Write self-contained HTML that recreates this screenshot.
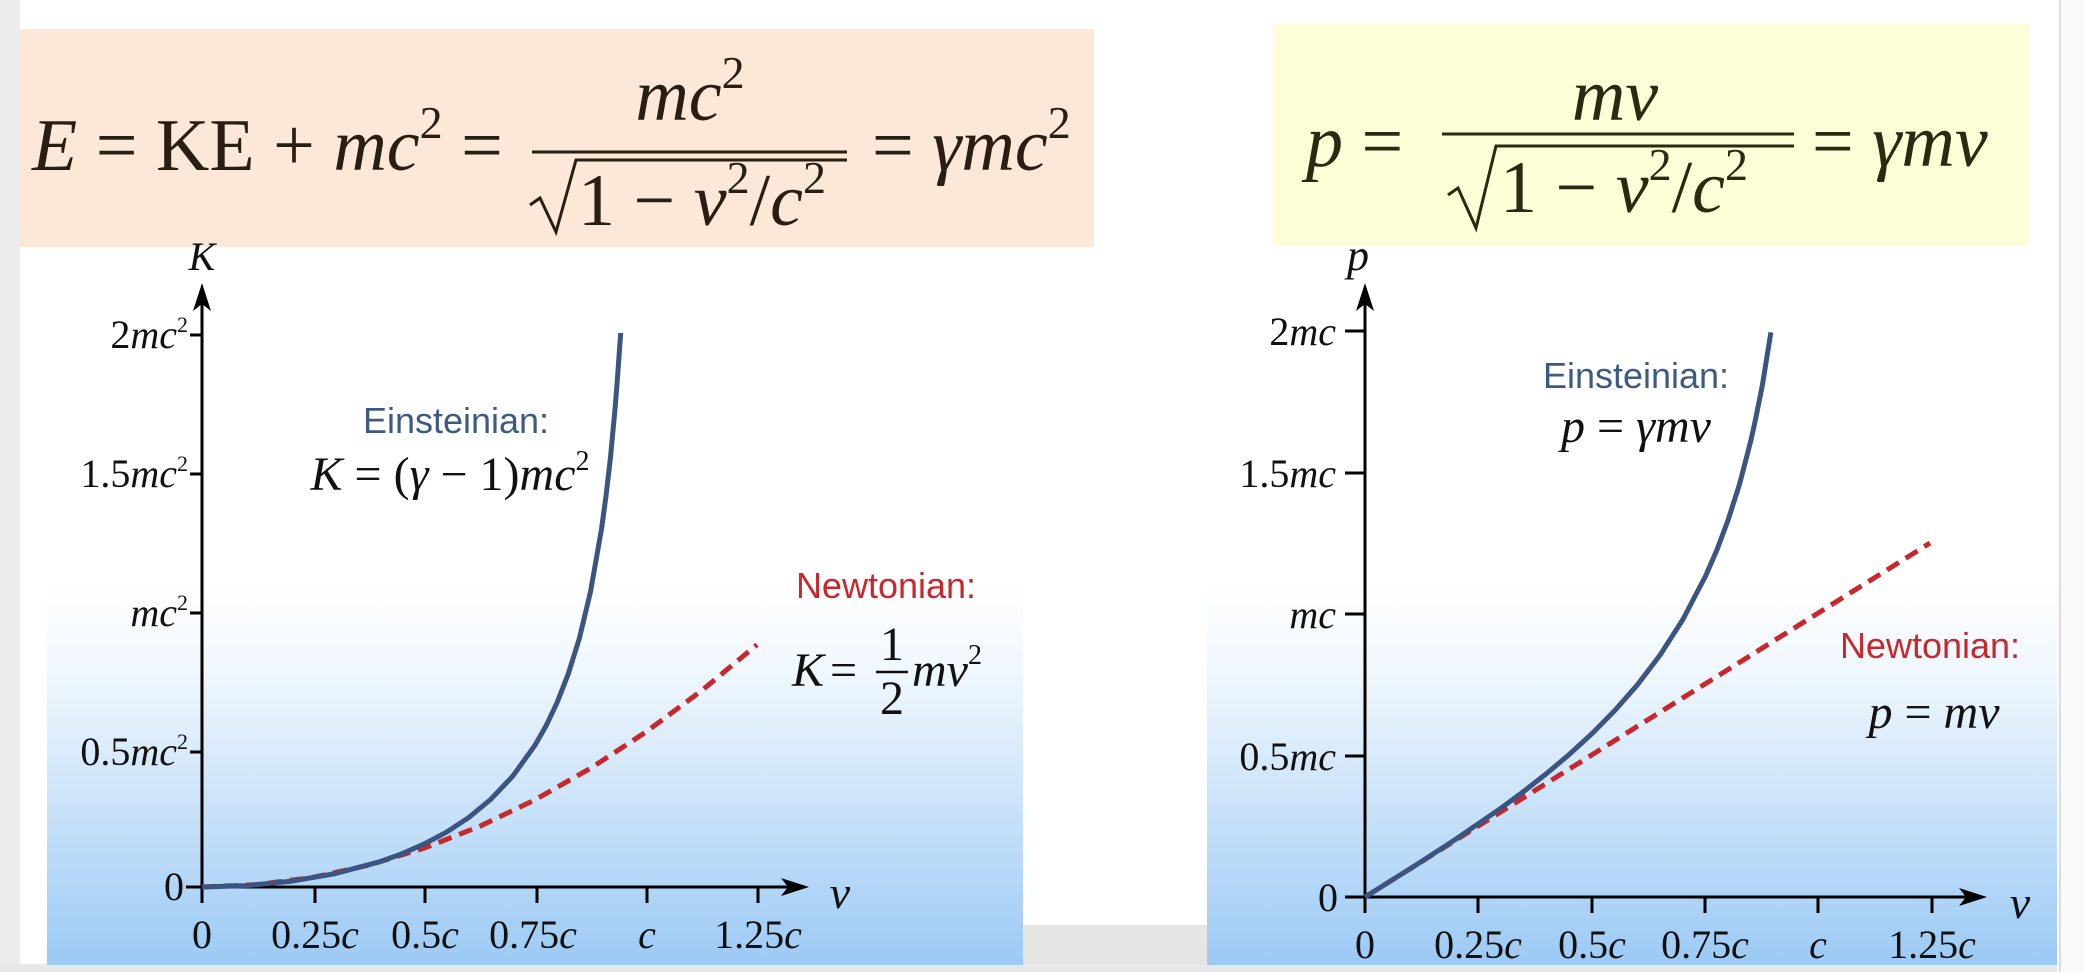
<!DOCTYPE html>
<html><head><meta charset="utf-8"><style>
html,body{margin:0;padding:0;background:#fff;width:2084px;height:972px;overflow:hidden}
svg{display:block}
.s{font-family:"Liberation Serif",serif}
.i{font-style:italic}
.a{font-family:"Liberation Sans",sans-serif}
</style></head><body>
<svg width="2084" height="972" viewBox="0 0 2084 972">
<defs>
<linearGradient id="g" x1="0" y1="0" x2="0" y2="1">
<stop offset="0" stop-color="#ffffff"/>
<stop offset="0.25" stop-color="#eef6fd"/>
<stop offset="1" stop-color="#9ccaf5"/>
</linearGradient>
</defs>
<rect x="0" y="0" width="20" height="972" fill="#ececef"/>
<rect x="1023" y="925" width="190" height="41" fill="#e6e6e4"/>
<rect x="0" y="964" width="2084" height="8" fill="#e8e8ea"/>
<rect x="2057" y="0" width="27" height="972" fill="#fafafa"/>
<line x1="2060" y1="0" x2="2060" y2="972" stroke="#ddd" stroke-width="2"/>

<rect x="20" y="29" width="1074" height="218" fill="#fbe8d8"/>
<rect x="1273" y="24" width="756" height="222" fill="#fdfdd8"/>

<rect x="47" y="585" width="976" height="380" fill="url(#g)"/>
<rect x="1207" y="585" width="850" height="380" fill="url(#g)"/>

<!-- left formula -->
<g class="s" fill="#2a1e12" font-size="74">
<text x="32" y="170"><tspan class="i">E</tspan> = KE + <tspan class="i">mc</tspan><tspan font-size="46" dy="-32">2</tspan><tspan dy="32"> =</tspan></text>
<text x="690" y="120" text-anchor="middle"><tspan class="i">mc</tspan><tspan font-size="46" dy="-32">2</tspan></text>
<line x1="532" y1="152" x2="847" y2="152" stroke="#2a1e12" stroke-width="3"/>
<path d="M530 205 L540 198 L556 232 L576 160 L847 160" fill="none" stroke="#2a1e12" stroke-width="3"/>
<text x="578" y="225">1 − <tspan class="i">v</tspan><tspan font-size="46" dy="-32">2</tspan><tspan dy="32">/</tspan><tspan class="i">c</tspan><tspan font-size="46" dy="-32">2</tspan></text>
<text x="872" y="170">= <tspan class="i">γmc</tspan><tspan font-size="46" dy="-32">2</tspan></text>
</g>

<!-- right formula -->
<g class="s" fill="#2a2a10" font-size="74">
<text x="1306" y="166"><tspan class="i">p</tspan> =</text>
<text x="1615" y="120" text-anchor="middle" class="i">mv</text>
<line x1="1442" y1="134" x2="1794" y2="134" stroke="#2a2a10" stroke-width="3"/>
<path d="M1448 195 L1458 188 L1476 228 L1496 146 L1794 146" fill="none" stroke="#2a2a10" stroke-width="3"/>
<text x="1500" y="212">1 − <tspan class="i">v</tspan><tspan font-size="46" dy="-32">2</tspan><tspan dy="32">/</tspan><tspan class="i">c</tspan><tspan font-size="46" dy="-32">2</tspan></text>
<text x="1812" y="166">= <tspan class="i">γmv</tspan></text>
</g>

<!-- left chart axes -->
<g stroke="#000" stroke-width="3" fill="none">
<line x1="202" y1="887" x2="202" y2="300"/>
<line x1="186" y1="887" x2="790" y2="887"/>
<line x1="190" y1="335" x2="202" y2="335"/>
<line x1="190" y1="474" x2="202" y2="474"/>
<line x1="190" y1="613" x2="202" y2="613"/>
<line x1="190" y1="752" x2="202" y2="752"/>
<line x1="315" y1="887" x2="315" y2="903"/>
<line x1="425" y1="887" x2="425" y2="903"/>
<line x1="537" y1="887" x2="537" y2="903"/>
<line x1="647" y1="887" x2="647" y2="903"/>
<line x1="758" y1="887" x2="758" y2="903"/>
<line x1="202" y1="887" x2="202" y2="903"/>
</g>
<polygon points="202,283 193,311 202,304 211,311" fill="#000"/>
<polygon points="809,887 781,878 788,887 781,896" fill="#000"/>
<g class="s" font-size="40" fill="#111">
<text x="202" y="270" class="i" font-size="40" text-anchor="middle">K</text>
<text x="840" y="908" class="i" font-size="46" text-anchor="middle">v</text>
<text x="188" y="348" text-anchor="end"><tspan>2</tspan><tspan class="i">mc</tspan><tspan font-size="22" dy="-16">2</tspan></text>
<text x="188" y="487" text-anchor="end"><tspan>1.5</tspan><tspan class="i">mc</tspan><tspan font-size="22" dy="-16">2</tspan></text>
<text x="188" y="626" text-anchor="end"><tspan class="i">mc</tspan><tspan font-size="22" dy="-16">2</tspan></text>
<text x="188" y="765" text-anchor="end"><tspan>0.5</tspan><tspan class="i">mc</tspan><tspan font-size="22" dy="-16">2</tspan></text>
<text x="184" y="900" text-anchor="end">0</text>
<text x="202" y="948" text-anchor="middle">0</text>
<text x="315" y="948" text-anchor="middle">0.25<tspan class="i">c</tspan></text>
<text x="425" y="948" text-anchor="middle">0.5<tspan class="i">c</tspan></text>
<text x="533" y="948" text-anchor="middle">0.75<tspan class="i">c</tspan></text>
<text x="647" y="948" text-anchor="middle" class="i">c</text>
<text x="758" y="948" text-anchor="middle">1.25<tspan class="i">c</tspan></text>
</g>
<polyline fill="none" stroke="#c8282c" stroke-width="5" stroke-dasharray="14 8" points="202,887 257.5,884.6 313,877.3 368.5,865.2 424,848.2 479.5,826.4 535,799.8 590.5,768.3 646,731.9 701.5,690.7 757,644.7"/>
<polyline fill="none" stroke="#3b5580" stroke-width="5" stroke-linejoin="round" points="202,887 246.4,885.6 290.8,881.3 335.2,873.6 379.6,861.8 401.8,853.8 424,844.1 446.2,832.3 468.4,817.8 490.6,799.5 512.8,776.1 535,745.2 546.1,725.8 557.2,702.3 568.3,673.8 579.4,638.2 590.5,591.8 601.6,528.5 606,495.9 610.5,457.2 614.9,410.4 617.1,383 620.7,333"/>
<text x="456" y="433" class="a" font-size="36" fill="#3d5a85" text-anchor="middle">Einsteinian:</text>
<text x="450" y="490" class="s" font-size="48" fill="#111" text-anchor="middle"><tspan class="i">K</tspan> = (<tspan class="i">γ</tspan> − 1)<tspan class="i">mc</tspan><tspan font-size="28" dy="-20">2</tspan></text>
<text x="886" y="598" class="a" font-size="36" fill="#c8282c" text-anchor="middle">Newtonian:</text>
<g class="s" font-size="48" fill="#111">
<text x="792" y="686" class="i">K</text>
<text x="830" y="686">=</text>
<text x="892" y="660" text-anchor="middle">1</text>
<line x1="876" y1="672" x2="908" y2="672" stroke="#111" stroke-width="2.5"/>
<text x="892" y="714" text-anchor="middle">2</text>
<text x="912" y="686" class="i">mv</text>
<text x="968" y="664" font-size="28">2</text>
</g>

<!-- right chart axes -->
<g stroke="#000" stroke-width="3" fill="none">
<line x1="1365" y1="897" x2="1365" y2="300"/>
<line x1="1345" y1="897" x2="1970" y2="897"/>
<line x1="1345" y1="331" x2="1365" y2="331"/>
<line x1="1345" y1="473" x2="1365" y2="473"/>
<line x1="1345" y1="614" x2="1365" y2="614"/>
<line x1="1345" y1="756" x2="1365" y2="756"/>
<line x1="1365" y1="897" x2="1365" y2="913"/>
<line x1="1478" y1="897" x2="1478" y2="913"/>
<line x1="1592" y1="897" x2="1592" y2="913"/>
<line x1="1705" y1="897" x2="1705" y2="913"/>
<line x1="1818" y1="897" x2="1818" y2="913"/>
<line x1="1932" y1="897" x2="1932" y2="913"/>
</g>
<polygon points="1365,283 1356,311 1365,304 1374,311" fill="#000"/>
<polygon points="1987,897 1959,888 1966,897 1959,906" fill="#000"/>
<g class="s" font-size="40" fill="#111">
<text x="1358" y="270" class="i" font-size="44" text-anchor="middle">p</text>
<text x="2020" y="918" class="i" font-size="46" text-anchor="middle">v</text>
<text x="1336" y="345" text-anchor="end">2<tspan class="i">mc</tspan></text>
<text x="1336" y="487" text-anchor="end">1.5<tspan class="i">mc</tspan></text>
<text x="1336" y="628" text-anchor="end" class="i">mc</text>
<text x="1336" y="770" text-anchor="end">0.5<tspan class="i">mc</tspan></text>
<text x="1338" y="911" text-anchor="end">0</text>
<text x="1365" y="958" text-anchor="middle">0</text>
<text x="1478" y="958" text-anchor="middle">0.25<tspan class="i">c</tspan></text>
<text x="1592" y="958" text-anchor="middle">0.5<tspan class="i">c</tspan></text>
<text x="1705" y="958" text-anchor="middle">0.75<tspan class="i">c</tspan></text>
<text x="1818" y="958" text-anchor="middle" class="i">c</text>
<text x="1932" y="958" text-anchor="middle">1.25<tspan class="i">c</tspan></text>
</g>
<line x1="1365" y1="897" x2="1930" y2="543" stroke="#c8282c" stroke-width="5" stroke-dasharray="14 8"/>
<polyline fill="none" stroke="#3b5580" stroke-width="5" stroke-linejoin="round" points="1365,897 1410.4,868.6 1455.8,839.2 1501.2,808 1523.9,791.3 1546.6,773.5 1569.3,754.4 1592,733.6 1614.7,710.6 1637.4,684.8 1660.1,655 1682.8,619.6 1705.5,576.1 1716.9,550 1728.2,519.7 1739.6,484 1750.9,440.4 1755.4,420 1762.3,385.6 1770.9,332.4"/>
<text x="1636" y="388" class="a" font-size="36" fill="#3d5a85" text-anchor="middle">Einsteinian:</text>
<text x="1636" y="442" class="s" font-size="48" fill="#111" text-anchor="middle"><tspan class="i">p</tspan> = <tspan class="i">γmv</tspan></text>
<text x="1930" y="658" class="a" font-size="36" fill="#c8282c" text-anchor="middle">Newtonian:</text>
<text x="1934" y="728" class="s" font-size="48" fill="#111" text-anchor="middle"><tspan class="i">p</tspan> = <tspan class="i">mv</tspan></text>
</svg>
</body></html>
